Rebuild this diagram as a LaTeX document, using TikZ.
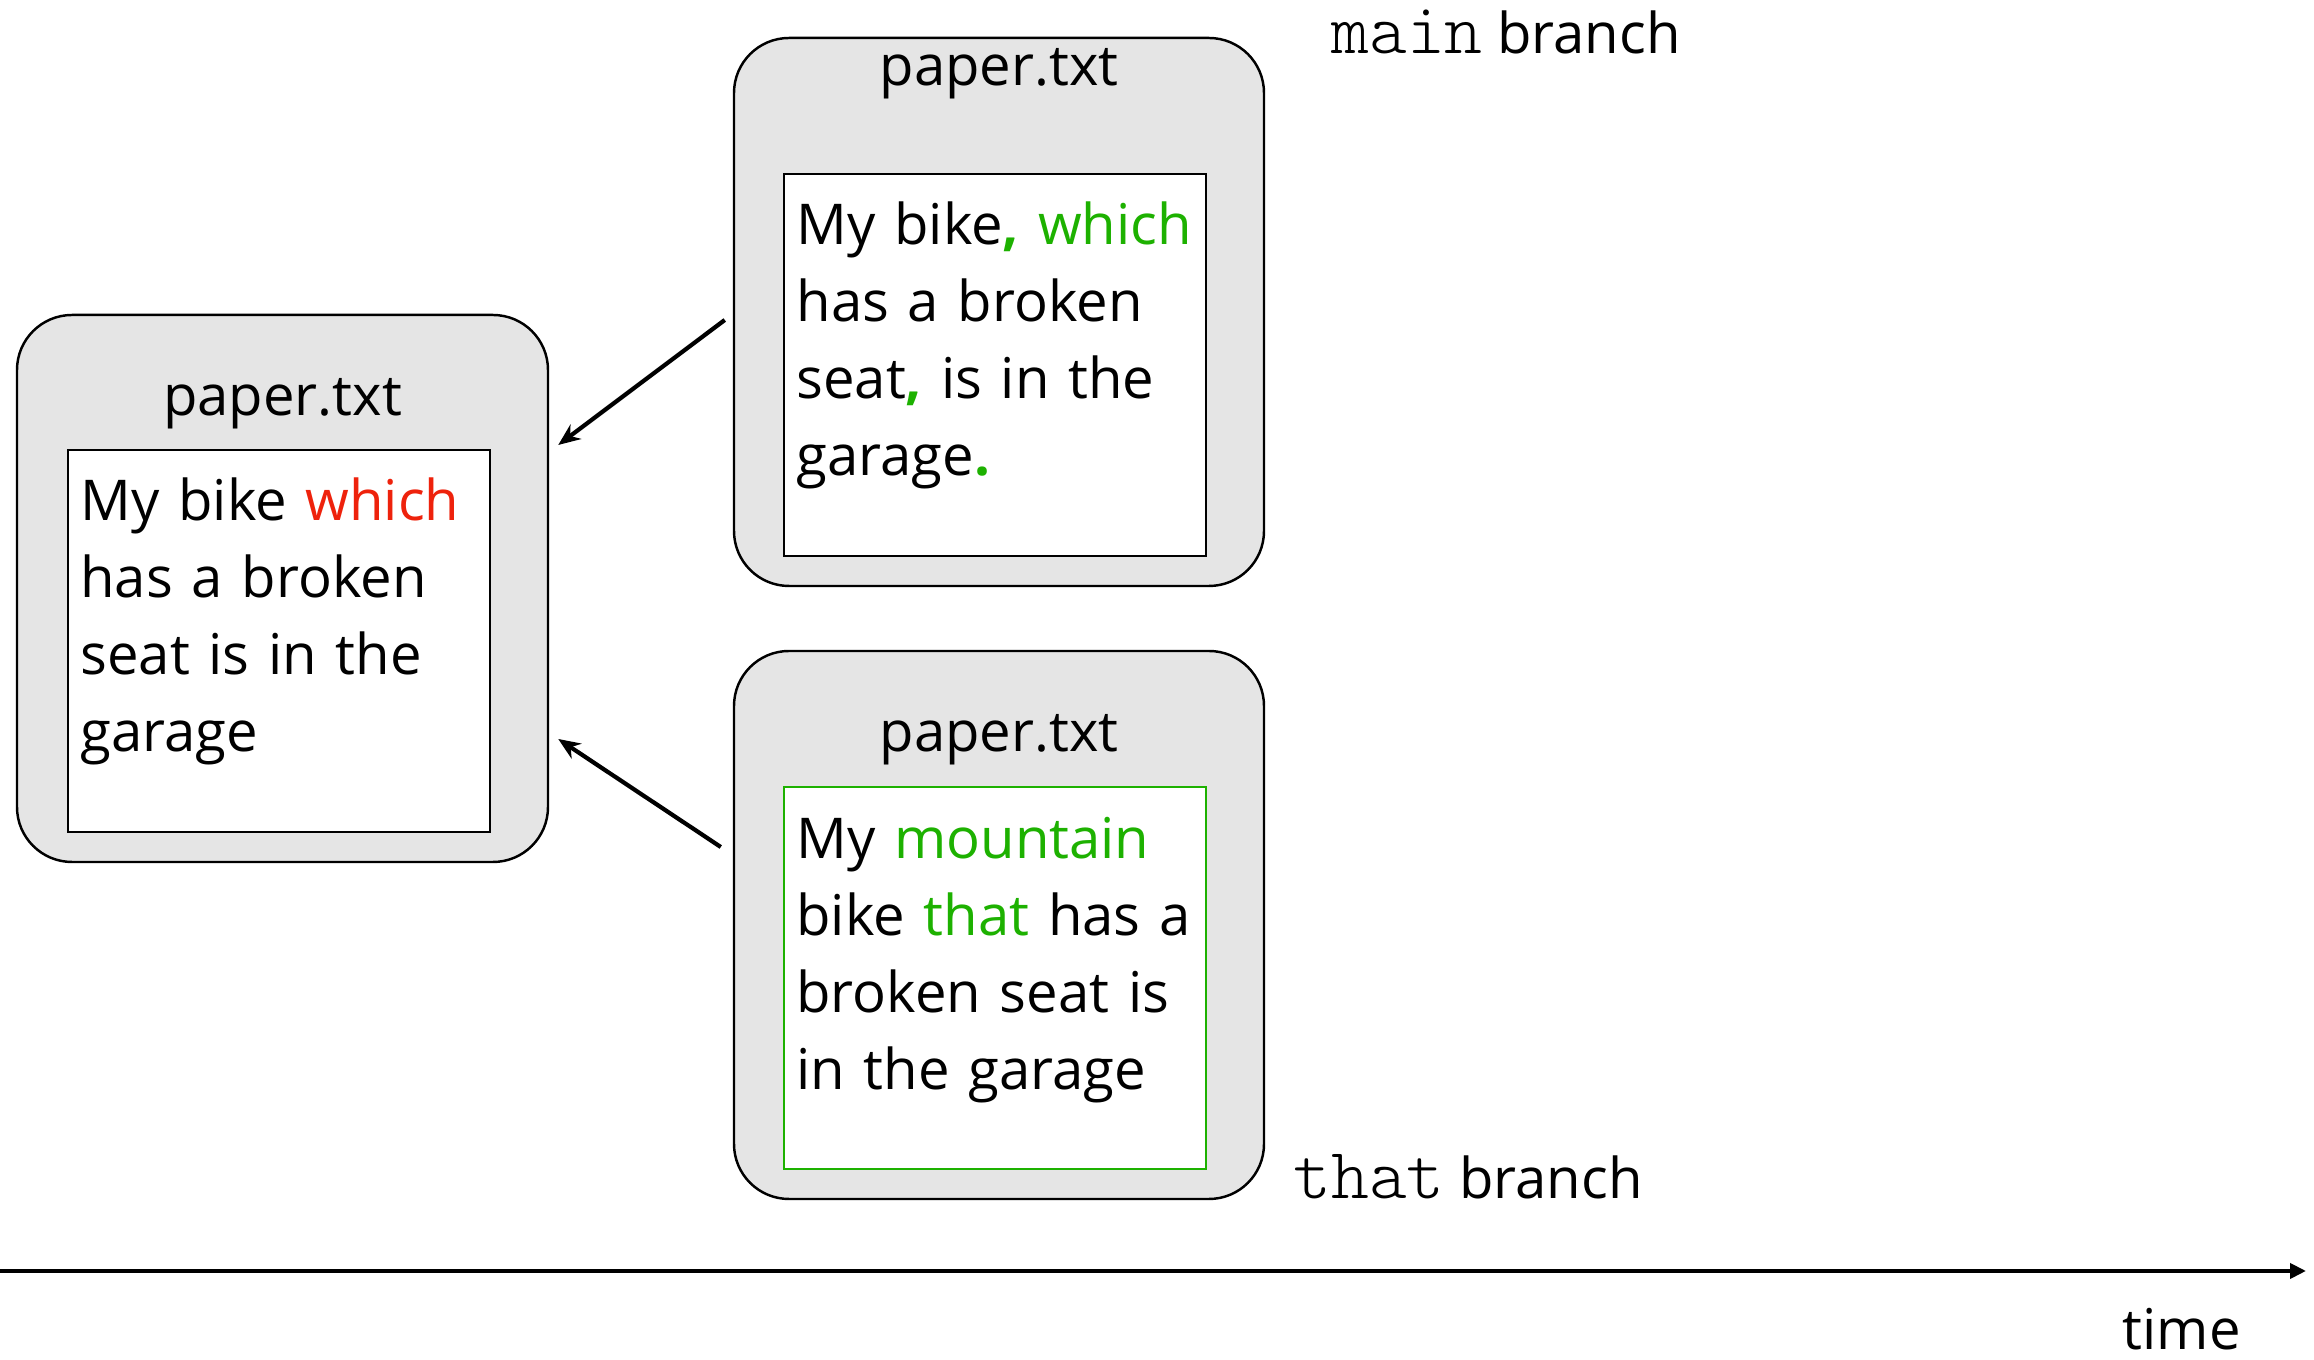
\documentclass[tikz,border=0pt]{standalone}
\usepackage{fontspec}
\setmainfont{Open Sans}
\newfontfamily\monolight{lmmonolt10-regular}[Extension=.otf]
\usepackage{tikz}
\usetikzlibrary{positioning,calc,arrows.meta}
\tikzstyle{filebox} = [
  rectangle, rounded corners=0.55cm, line width=0.7pt,
  minimum width=5.3cm, minimum height=5.48cm, inner sep=0cm,
  draw=black, fill=gray!20
]
\tikzstyle{content} = [rectangle, draw=black, line width=0.6pt, minimum width=4.22cm, minimum height=3.82cm, inner sep=0cm, fill=white]
\tikzstyle{filetext} = [anchor=base west, inner sep=0cm, text width=4.1cm, align=left]
\tikzstyle{arrow} = [line width=1.2pt, -{Stealth[length=0.22cm, width=0.18cm]}]
\tikzstyle{axis} = [line width=1.1pt, -{Triangle[length=0.16cm, width=0.15cm]}]
\definecolor{keyred}{RGB}{238,34,12}
\definecolor{keygreen}{RGB}{29,177,0}
\newcommand{\branchname}[1]{{\fontsize{20.5}{24}\selectfont\monolight #1}}

\begin{document}
\begin{tikzpicture}[font=\fontsize{16}{21.9}\selectfont]
        \useasboundingbox (0,0) rectangle (23.14,13.60);
        % Base version ------------------------------------------------------------------------------
        \node[filebox, minimum width=5.31cm, minimum height=5.47cm](base_file) at (2.825,7.715){};
        \node[anchor=base](base_name) at ([yshift=-1.02cm]base_file.north){paper.txt};
        \node[content, below right=1.35cm and 0.51cm of base_file.north west](base_box){};
        \node[filetext](base_text) at ([shift={(0.13,-0.72)}]base_box.north west){My bike {\color{keyred}which}\\has a broken\\seat is in the\\garage};
        % main branch -------------------------------------------------------------------------------
        \node[filebox](main_file) at (9.99,10.48){};
        \node[anchor=base](main_name) at ([yshift=-0.49cm]main_file.north){paper.txt};
        \node[content, below right=1.36cm and 0.5cm of main_file.north west](main_box){};
        \node[filetext](main_text) at ([shift={(0.13,-0.72)}]main_box.north west){My bike{\color{keygreen}\textbf{,}} {\color{keygreen}which}\\has a broken\\seat{\color{keygreen}\textbf{,}} is in the\\garage{\color{keygreen}\textbf{.}}};
        \node[anchor=base west](main_label) at (13.19,13.06){\branchname{main} branch};
        % that branch -------------------------------------------------------------------------------
        \node[filebox](that_file) at (9.99,4.35){};
        \node[anchor=base](that_name) at ([yshift=-1.015cm]that_file.north){paper.txt};
        \node[content, draw=keygreen, below right=1.36cm and 0.5cm of that_file.north west](that_box){};
        \node[filetext](that_text) at ([shift={(0.13,-0.725)}]that_box.north west){My {\color{keygreen}mountain}\\bike {\color{keygreen}that} has a\\broken seat is\\in the garage};
        \node[anchor=base west](that_label) at (12.81,1.61){\branchname{that} branch};
        % Time axis ---------------------------------------------------------------------------------
        \coordinate (time_start) at (0,0.89);
        \coordinate (time_end) at (23.06,0.89);
        \node[anchor=base west, inner sep=0pt](time_label) at (21.22,0.1){time};
        % Arrows ------------------------------------------------------------------------------------
        \draw[arrow] ([shift={(-0.08,-0.08)}]main_file.west) -- ([shift={(0.09,1.435)}]base_file.east);
        \draw[arrow] ([shift={(-0.12,0.78)}]that_file.west) -- ([shift={(0.09,-1.505)}]base_file.east);
        \draw[axis] (time_start) -- (time_end);
    \end{tikzpicture}
\end{document}
